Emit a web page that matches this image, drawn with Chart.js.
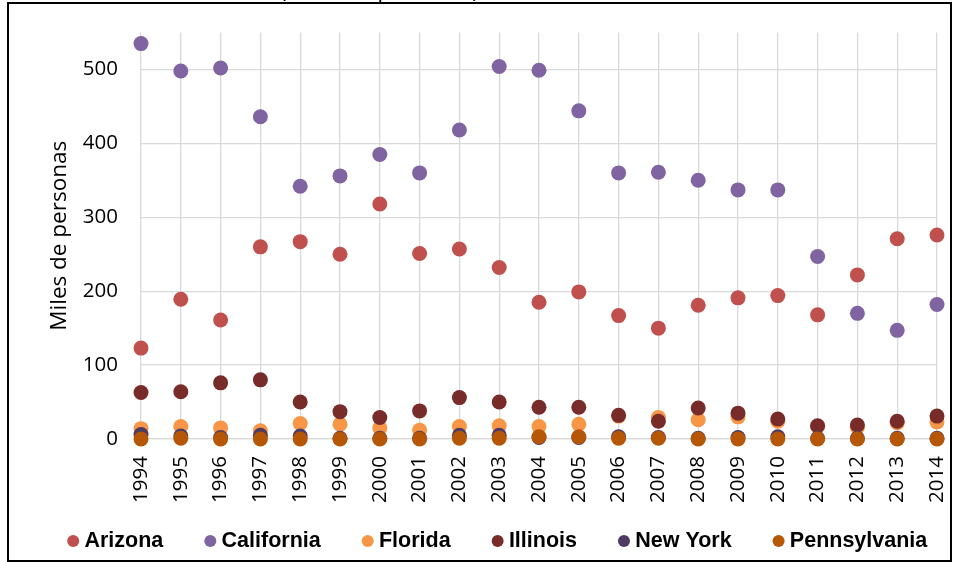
<!DOCTYPE html>
<html>
<head>
<meta charset="utf-8">
<script src="https://cdn.jsdelivr.net/npm/chart.js@4.4.1/dist/chart.umd.min.js"></script>
<style>
  body { margin: 0; background: #fff; }
  #wrap { position: relative; width: 954px; height: 562px; overflow: hidden; }
  #frame { position: absolute; left: 7px; top: 2px; width: 941px; height: 556px; border: 2px solid #000; pointer-events: none; }
  #cut { position: absolute; left: 280px; top: -26px; font: 22px "Open Sans", sans-serif; color: #000; white-space: nowrap; }
</style>
</head>
<body>
<div id="wrap">
  <canvas id="chart" width="954" height="562"></canvas>
  <div id="cut">(Miles de personas)</div>
  <div id="frame"></div>
</div>
<script>
// categories
const years = ['1994', '1995', '1996', '1997', '1998', '1999', '2000', '2001', '2002', '2003',
  '2004', '2005', '2006', '2007', '2008', '2009', '2010', '2011', '2012', '2013', '2014'];

// series values (miles de personas)
const arizona = [123, 189, 161, 260, 267, 250, 318, 251, 257, 232, 185, 199, 167, 150, 181, 191, 194, 168, 222, 271, 276];
const california = [535, 498, 502, 436, 342, 356, 385, 360, 418, 504, 499, 444, 360, 361, 350, 337, 337, 247, 170, 147, 182];
const florida = [14, 17, 15, 11, 21, 20, 15, 12, 17, 18, 17, 20, 31, 29, 26, 30, 24, 17, 16, 22, 23];
const illinois = [63, 64, 76, 80, 50, 37, 29, 38, 56, 50, 43, 43, 32, 24, 42, 35, 27, 18, 19, 24, 31];
const newYork = [6, 4, 2, 5, 4, 1, 1, 1, 5, 5, 2, 2, 3, 2, 1, 2, 3, 1, 1, 1, 1];
const pennsylvania = [0, 1, 0, 0, 0, 0, 0, 0, 1, 1, 3, 3, 1, 1, 0, 0, 0, 0, 0, 0, 0];

const yMax = 550;
const yStep = 100;

const legendPad = 46.5;
const legendFont = 21.5;

function series(label, data, color, order) {
    return {
        label: label,
        data: data,
        showLine: false,
        backgroundColor: color,
        borderColor: color,
        pointBackgroundColor: color,
        pointBorderWidth: 0,
        pointRadius: 7.5,
        pointHoverRadius: 7.5,
        clip: false,
        order: order // later series sit on top, like in the original
    };
}

// keep the legend on one row, centred near x=500, close to the bottom edge
const legendFitPlugin = {
    id: 'legendFit',
    beforeUpdate(chart) {
        const legend = chart.legend;
        if (!legend || legend._fitPatched) return;
        const fit = legend.fit;
        legend.fit = function () {
            this.maxWidth = 2000;
            fit.call(this);
            this.height = 52;
        };
        legend._fitPatched = true;
    },
    afterLayout(chart) {
        const legend = chart.legend;
        legend.top = 541 - legendPad - legendFont / 2;
        legend.bottom = 562;
        legend.left = -300;
        legend.right = 1300;
    }
};

const ctx = document.getElementById('chart').getContext('2d');
new Chart(ctx, {
    type: 'line',
    data: {
        labels: years,
        datasets: [
            series('Arizona', arizona, '#C0504D', 6),
            series('California', california, '#8064A2', 5),
            series('Florida', florida, '#F79646', 4),
            series('Illinois', illinois, '#772C2A', 3),
            series('New York', newYork, '#4D3B62', 2),
            series('Pennsylvania', pennsylvania, '#B65708', 1)
        ]
    },
    options: {
        responsive: false,
        animation: false,
        layout: { padding: { top: 32.5, left: 46, right: 17, bottom: 0 } },
        plugins: {
            tooltip: { enabled: false },
            legend: {
                position: 'bottom',
                labels: {
                    usePointStyle: true,
                    pointStyle: 'circle',
                    boxWidth: 1,
                    boxHeight: 8.5,
                    padding: legendPad,
                    color: '#000',
                    font: { family: '"Liberation Sans", Arial, sans-serif', size: legendFont, weight: 'bold' },
                    sort: (a, b) => a.datasetIndex - b.datasetIndex
                }
            }
        },
        scales: {
            x: {
                offset: false,
                grid: { color: '#d9d9d9', lineWidth: 1.3, drawTicks: false },
                border: { color: '#d9d9d9', width: 1.3 },
                ticks: {
                    color: '#000',
                    padding: 17,
                    minRotation: 90,
                    maxRotation: 90,
                    autoSkip: false,
                    font: { family: '"Open Sans", sans-serif', size: 20.5 }
                },
                afterFit(scale) {
                    scale.height = 71;
                    scale.paddingLeft = 0;
                    scale.paddingRight = 0;
                }
            },
            y: {
                min: 0,
                max: yMax,
                grid: { color: '#d9d9d9', lineWidth: 1.3, drawTicks: false },
                border: { display: false },
                ticks: {
                    stepSize: yStep,
                    color: '#000',
                    padding: 23,
                    font: { family: '"Open Sans", sans-serif', size: 20.5 }
                },
                afterBuildTicks(scale) {
                    scale.ticks = scale.ticks.filter(t => t.value % yStep === 0);
                },
                title: {
                    display: true,
                    text: 'Miles de personas',
                    color: '#000',
                    padding: { top: 0, bottom: 0 },
                    font: { family: '"Open Sans", sans-serif', size: 22.5 }
                },
                afterFit(scale) {
                    scale.width = 141 - 46;
                    scale.paddingTop = 0;
                    scale.paddingBottom = 0;
                }
            }
        }
    },
    plugins: [legendFitPlugin]
});
</script>
</body>
</html>
